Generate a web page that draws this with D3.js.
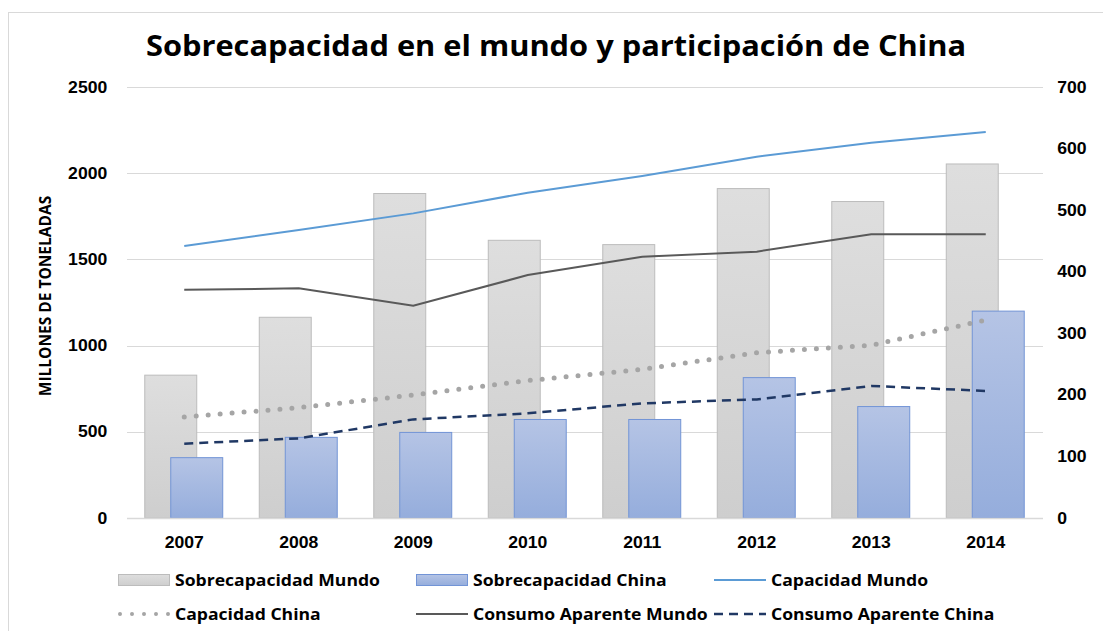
<!DOCTYPE html>
<html>
<head>
<meta charset="utf-8">
<script src="https://cdn.jsdelivr.net/npm/d3@7"></script>
<style>
  body { margin: 0; background: #fff; }
  svg { display: block; font-family: "Open Sans", "DejaVu Sans", sans-serif; }
  .tick text { font-weight: bold; font-size: 16px; fill: #000; }
</style>
</head>
<body>
<svg id="chart" width="1103" height="631"></svg>
<script>
// datos
const years = ["2007", "2008", "2009", "2010", "2011", "2012", "2013", "2014"];
// eje derecho (barras)
const sobrecapMundo = [232, 326, 527, 451, 444, 535, 514, 575];
const sobrecapChina = [98, 131, 139, 160, 160, 228, 181, 336];
// eje izquierdo (lineas)
const capMundo = [1578, 1670, 1767, 1887, 1984, 2096, 2176, 2239];
const capChina = [586, 640, 713, 797, 862, 959, 1002, 1148];
const consMundo = [1324, 1332, 1231, 1409, 1516, 1545, 1646, 1646];
const consChina = [431, 462, 572, 607, 665, 688, 766, 737];
const leftTicks = [0, 500, 1000, 1500, 2000, 2500];
const rightTicks = [0, 100, 200, 300, 400, 500, 600, 700];

const STRETCH = "scale(1.1,1)";   // el original esta algo estirado a lo ancho

const svg = d3.select("#chart");
const plot = { left: 127, right: 1043, top: 87, bottom: 518 };

// marco
svg.append("rect")
    .attr("x", 8.5).attr("y", 12.5)
    .attr("width", 1200).attr("height", 800)
    .attr("fill", "none")
    .attr("stroke", "#d9d9d9");

const defs = svg.append("defs");
const gGray = defs.append("linearGradient").attr("id", "gGray")
    .attr("x1", 0).attr("y1", 0).attr("x2", 0).attr("y2", 1);
gGray.append("stop").attr("offset", "0%").attr("stop-color", "#dedede");
gGray.append("stop").attr("offset", "100%").attr("stop-color", "#cecece");
const gBlue = defs.append("linearGradient").attr("id", "gBlue")
    .attr("x1", 0).attr("y1", 0).attr("x2", 0).attr("y2", 1);
gBlue.append("stop").attr("offset", "0%").attr("stop-color", "#b5c4e5");
gBlue.append("stop").attr("offset", "100%").attr("stop-color", "#95addc");

const x = d3.scaleBand().domain(years).range([plot.left, plot.right]);
const yL = d3.scaleLinear().domain([0, 2500]).range([plot.bottom, plot.top]);
const yR = d3.scaleLinear().domain([0, 700]).range([plot.bottom, plot.top]);
const cx = d => x(d) + x.bandwidth() / 2;

// titulo
svg.append("g")
    .attr("transform", `translate(556,56) ${STRETCH}`)
    .append("text")
    .attr("text-anchor", "middle")
    .attr("font-size", 28).attr("font-weight", "bold")
    .text("Sobrecapacidad en el mundo y participación de China");

// lineas de cuadricula
svg.append("g")
    .selectAll("line")
    .data(leftTicks.slice(1))
    .join("line")
    .attr("x1", plot.left).attr("x2", plot.right)
    .attr("y1", d => Math.round(yL(d)) + 0.5).attr("y2", d => Math.round(yL(d)) + 0.5)
    .attr("stroke", "#d9d9d9");

// ejes
const axL = svg.append("g")
    .attr("transform", `translate(${plot.left},0)`)
    .call(d3.axisLeft(yL).tickValues(leftTicks).tickFormat(d3.format("d")).tickSize(0).tickPadding(18));
axL.select(".domain").remove();
const axR = svg.append("g")
    .attr("transform", `translate(${plot.right},0)`)
    .call(d3.axisRight(yR).tickValues(rightTicks).tickFormat(d3.format("d")).tickSize(0).tickPadding(13));
axR.select(".domain").remove();

svg.append("text")
    .attr("transform", "translate(51,296) rotate(-90)")
    .attr("text-anchor", "middle")
    .attr("font-size", 15.5).attr("font-weight", "bold")
    .text("MILLONES DE TONELADAS");

// barras
const bw = x.bandwidth();
const barW = bw * 0.454;
svg.append("g")
    .selectAll("rect")
    .data(years)
    .join("rect")
    .attr("x", d => cx(d) - barW * 1.5 / 2 - 0.5)
    .attr("y", (d, i) => yR(sobrecapMundo[i]))
    .attr("width", barW)
    .attr("height", (d, i) => yR(0) - yR(sobrecapMundo[i]))
    .attr("fill", "url(#gGray)")
    .attr("stroke", "#bcbcbc")
    .attr("stroke-width", 1);
svg.append("g")
    .selectAll("rect")
    .data(years)
    .join("rect")
    .attr("x", d => cx(d) - barW * 1.5 / 2 + barW / 2 - 0.5)
    .attr("y", (d, i) => yR(sobrecapChina[i]))
    .attr("width", barW)
    .attr("height", (d, i) => yR(0) - yR(sobrecapChina[i]))
    .attr("fill", "url(#gBlue)")
    .attr("stroke", "#7294d6")
    .attr("stroke-width", 1);

// eje x
svg.append("line")
    .attr("x1", plot.left).attr("x2", plot.right)
    .attr("y1", plot.bottom + 0.5).attr("y2", plot.bottom + 0.5)
    .attr("stroke", "#d9d9d9").attr("stroke-width", 1.5);
const axB = svg.append("g")
    .attr("transform", `translate(0,${plot.bottom})`)
    .call(d3.axisBottom(x).tickSize(0).tickPadding(19));
axB.select(".domain").remove();

svg.selectAll(".tick text").attr("transform", STRETCH);

// lineas
const series = [
    { name: "Capacidad Mundo", values: capMundo, color: "#5b9bd5", width: 2, dash: null },
    { name: "Capacidad China", values: capChina, color: "#a5a5a5", width: 5, dash: "0,12" },
    { name: "Consumo Aparente Mundo", values: consMundo, color: "#595959", width: 2, dash: null },
    { name: "Consumo Aparente China", values: consChina, color: "#203864", width: 2.5, dash: "9,6" }
];
const line = d3.line().x(d => cx(d[0])).y(d => yL(d[1]));
series.forEach(s => {
    svg.append("path")
        .attr("d", line(d3.zip(years, s.values)))
        .attr("fill", "none")
        .attr("stroke", s.color)
        .attr("stroke-width", s.width)
        .attr("stroke-dasharray", s.dash)
        .attr("stroke-linecap", s.dash && s.dash.startsWith("0") ? "round" : "butt");
});

// leyenda
const legend = [
    { name: "Sobrecapacidad Mundo", type: "bar", fill: "url(#gGray)", stroke: "#bcbcbc", x: 118, y: 580 },
    { name: "Sobrecapacidad China", type: "bar", fill: "url(#gBlue)", stroke: "#7294d6", x: 416, y: 580 },
    { name: "Capacidad Mundo", type: "line", s: series[0], x: 714, y: 580 },
    { name: "Capacidad China", type: "line", s: { color: "#a5a5a5", width: 4, dash: "0,12" }, x: 118, y: 614 },
    { name: "Consumo Aparente Mundo", type: "line", s: series[2], x: 416, y: 614 },
    { name: "Consumo Aparente China", type: "line", s: series[3], x: 714, y: 614 }
];
const lg = svg.append("g");
legend.forEach(l => {
    if (l.type === "bar") {
        lg.append("rect")
            .attr("x", l.x + 0.5).attr("y", l.y - 5.5)
            .attr("width", 51).attr("height", 11)
            .attr("fill", l.fill).attr("stroke", l.stroke);
    } else {
        const round = l.s.dash && l.s.dash.startsWith("0");
        lg.append("line")
            .attr("x1", l.x + (round ? 2 : 0))
            .attr("x2", l.x + 52)
            .attr("y1", l.y).attr("y2", l.y)
            .attr("stroke", l.s.color)
            .attr("stroke-width", l.s.width)
            .attr("stroke-dasharray", l.s.dash)
            .attr("stroke-linecap", round ? "round" : "butt");
    }
    lg.append("g")
        .attr("transform", `translate(${l.x + 57},${l.y}) ${STRETCH}`)
        .append("text")
        .attr("dy", "0.35em")
        .attr("font-size", 16).attr("font-weight", "bold")
        .text(l.name);
});
</script>
</body>
</html>
